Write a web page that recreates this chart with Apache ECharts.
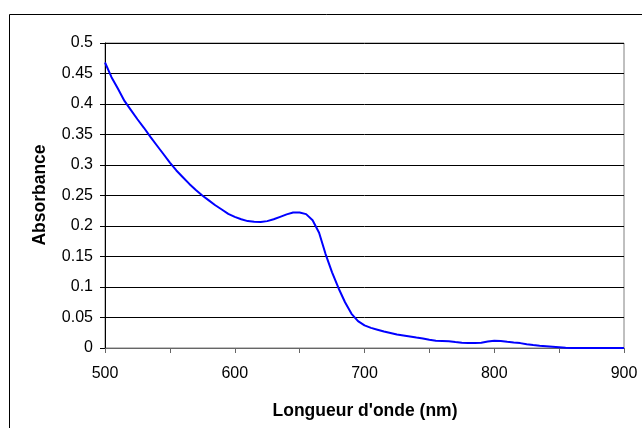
<!DOCTYPE html>
<html>
<head>
<meta charset="utf-8">
<script src="https://cdn.jsdelivr.net/npm/echarts@6/dist/echarts.min.js"></script>
<style>html,body{margin:0;padding:0;background:#fff}#c{width:642px;height:428px}</style>
</head>
<body>
<div id="c"></div>
<script>
var wavelengths = [500,505,510,515,520,525,530,535,540,545,550,555,560,565,570,575,580,585,590,595,600,605,610,615,620,625,630,635,640,645,650,655,660,665,670,675,680,685,690,695,700,705,710,715,720,725,730,735,740,745,750,755,760,765,770,775,780,785,790,795,800,805,810,815,820,825,830,835,840,845,850,855,860,865,870,875,880,885,890,895,900];
var absorbance = [0.468,0.444,0.425,0.405,0.390,0.375,0.361,0.346,0.332,0.318,0.304,0.291,0.280,0.269,0.259,0.250,0.242,0.234,0.227,0.220,0.215,0.211,0.208,0.207,0.2065,0.208,0.211,0.215,0.219,0.222,0.2222,0.2195,0.2095,0.189,0.154,0.124,0.098,0.075,0.056,0.044,0.037,0.033,0.030,0.027,0.0245,0.022,0.0205,0.019,0.0172,0.0155,0.0135,0.012,0.0115,0.011,0.0098,0.0088,0.008,0.008,0.0087,0.0105,0.012,0.0115,0.0102,0.009,0.008,0.006,0.0048,0.0038,0.003,0.0022,0.0013,0.0003,0,0,0,0,0,0,0,0,0];
var xTitle = "Longueur d'onde (nm)";
var yTitle = "Absorbance";

var pts = wavelengths.map(function(w,i){return [w, absorbance[i]];});
var chart = echarts.init(document.getElementById('c'), null, {renderer:'canvas'});
var font = 'Liberation Sans, Arial, sans-serif';
chart.setOption({
  animation:false,
  backgroundColor:'#fff',
  grid:{left:105,right:18,top:43,bottom:80,show:true,borderColor:'#808080',borderWidth:1,backgroundColor:'transparent'},
  xAxis:{type:'value',min:500,max:900,interval:50,
    axisLine:{show:true,onZero:false,lineStyle:{color:'#666',width:1}},
    axisTick:{show:true,inside:false,length:5,lineStyle:{color:'#666'}},
    axisLabel:{color:'#000',fontFamily:font,fontSize:16,margin:18,
      formatter:function(v){return v%100===0?String(v):'';}},
    splitLine:{show:false}},
  yAxis:{type:'value',min:0,max:0.5,interval:0.05,
    axisLine:{show:true,lineStyle:{color:'#000',width:1}},
    axisTick:{show:true,length:5,lineStyle:{color:'#000'}},
    axisLabel:{color:'#000',fontFamily:font,fontSize:16,margin:12,
      formatter:function(v){return String(Math.round(v*100)/100);}},
    splitLine:{show:true,lineStyle:{color:'#000',width:1}}},
  series:[{type:'line',data:pts,showSymbol:false,symbol:'none',
    lineStyle:{color:'#0000ff',width:2},itemStyle:{color:'#0000ff'},z:5}],
  graphic:[
    {type:'rect',shape:{x:9.5,y:14.5,width:700,height:500},style:{fill:'none',stroke:'#000',lineWidth:1},silent:true},
    {type:'text',x:365,y:411,style:{text:xTitle,font:'bold 17.5px '+font,fill:'#000',textAlign:'center',textVerticalAlign:'middle'}},
    {type:'text',x:40,y:195,rotation:Math.PI/2,style:{text:yTitle,font:'bold 17.5px '+font,fill:'#000',textAlign:'center',textVerticalAlign:'middle'}}
  ]
});
</script>
</body>
</html>
